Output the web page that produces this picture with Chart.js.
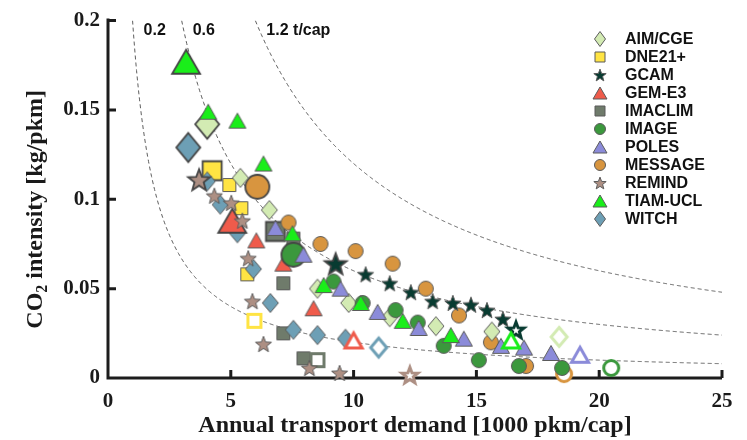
<!DOCTYPE html>
<html>
<head>
<meta charset="utf-8">
<script src="https://cdn.jsdelivr.net/npm/chart.js@4/dist/chart.umd.min.js"></script>
<style>
  html, body { margin: 0; padding: 0; background: #ffffff; }
  #c { display: block; }
</style>
</head>
<body>
<canvas id="c" width="747" height="440"></canvas>
<script>
// Passenger transport: demand vs. CO2 intensity per model, 2010 (large marker) to 2100 (open marker)
const models = ['AIM/CGE', 'DNE21+', 'GCAM', 'GEM-E3', 'IMACLIM', 'IMAGE', 'POLES', 'MESSAGE', 'REMIND', 'TIAM-UCL', 'WITCH'];

// transport demand [1000 pkm/cap]
const aimX     = [4.04, 5.39, 6.57, 8.53, 9.80, 11.47, 13.35, 15.63, 18.37];
const dneX     = [4.24, 4.94, 5.43, 5.67, 5.96];
const gcamX    = [9.27, 10.49, 11.47, 12.33, 13.22, 14.04, 14.78, 15.43, 16.08, 16.61];
const gemX     = [5.06, 6.04, 7.14, 8.37, 10.00];
const imaclimX = [6.82, 7.55, 7.14, 7.14, 7.96, 8.53];
const imageX   = [7.55, 9.18, 10.37, 11.71, 12.61, 13.67, 15.10, 16.73, 18.49, 20.49];
const polesX   = [6.82, 7.96, 9.47, 10.98, 12.65, 14.49, 16.00, 16.94, 18.04, 19.22];
const messageX = [6.08, 7.35, 8.65, 10.08, 11.59, 12.94, 14.29, 15.59, 17.02, 18.57];
const remindX  = [3.71, 4.33, 5.02, 5.47, 5.71, 5.88, 6.33, 8.20, 9.43, 12.29];
const tiamX    = [3.18, 4.08, 5.27, 6.33, 7.51, 8.78, 10.29, 12.00, 13.96, 16.41];
const witchX   = [3.27, 4.04, 4.57, 5.27, 5.92, 6.61, 7.55, 8.53, 9.67, 11.02];

// CO2 intensity [kg/pkm]
const aimY     = [0.142, 0.112, 0.094, 0.050, 0.042, 0.034, 0.029, 0.026, 0.023];
const dneY     = [0.116, 0.108, 0.095, 0.058, 0.032];
const gcamY    = [0.064, 0.058, 0.053, 0.048, 0.043, 0.042, 0.041, 0.038, 0.033, 0.027];
const gemY     = [0.088, 0.077, 0.064, 0.039, 0.021];
const imaclimY = [0.082, 0.078, 0.053, 0.025, 0.011, 0.010];
const imageY   = [0.069, 0.054, 0.042, 0.038, 0.031, 0.018, 0.010, 0.0067, 0.0056, 0.0056];
const polesY   = [0.084, 0.069, 0.050, 0.037, 0.028, 0.022, 0.018, 0.017, 0.014, 0.013];
const messageY = [0.107, 0.087, 0.075, 0.071, 0.064, 0.050, 0.035, 0.020, 0.0067, 0.0022];
const remindY  = [0.111, 0.102, 0.098, 0.088, 0.067, 0.043, 0.019, 0.0056, 0.0028, 0.0017];
const tiamY    = [0.177, 0.149, 0.144, 0.120, 0.081, 0.052, 0.042, 0.032, 0.024, 0.021];
const witchY   = [0.129, 0.110, 0.097, 0.081, 0.061, 0.042, 0.027, 0.024, 0.022, 0.017];

// models without a 2010 point in the series (first point is a regular one)
const noBaseYear = ['POLES'];

// iso-emission lines: demand x intensity = t CO2 per capita
const isoLevels = [0.2, 0.6, 1.2];
const isoLabels = ['0.2', '0.6', '1.2 t/cap'];

const xTickStep = 5;
const yTickStep = 0.05;

const series = [
  [aimX, aimY], [dneX, dneY], [gcamX, gcamY], [gemX, gemY], [imaclimX, imaclimY],
  [imageX, imageY], [polesX, polesY], [messageX, messageY], [remindX, remindY],
  [tiamX, tiamY], [witchX, witchY]
].map(([xs, ys], i) => ({ name: models[i], xs, ys }));

// ---- marker appearance ----
const SERIF = '"Liberation Serif", "Times New Roman", serif';
const SANS = '"Liberation Sans", Arial, sans-serif';

const look = {
  'AIM/CGE':  { shape: 'diamond',  color: '#d3ebb3', layer: 5 },
  'DNE21+':   { shape: 'square',   color: '#ffe443', layer: 10 },
  'GCAM':     { shape: 'star',     color: '#083b31', layer: 6 },
  'GEM-E3':   { shape: 'triangle', color: '#ef5b4b', layer: 8 },
  'IMACLIM':  { shape: 'square',   color: '#6f7b6b', layer: 11 },
  'IMAGE':    { shape: 'circle',   color: '#3b983d', layer: 4 },
  'POLES':    { shape: 'triangle', color: '#8b8bd9', layer: 2 },
  'MESSAGE':  { shape: 'circle',   color: '#d8953f', layer: 7 },
  'REMIND':   { shape: 'star',     color: '#ad8f83', layer: 3 },
  'TIAM-UCL': { shape: 'triangle', color: '#1aee1a', layer: 1 },
  'WITCH':    { shape: 'diamond',  color: '#6d9fb5', layer: 9 }
};

// half extents (w, h) per shape and size class
const markerSize = {
  diamond:  { normal: [8, 9.5],  large: [12, 14.5], legend: [5.5, 7.5] },
  square:   { normal: [6.5, 6.5], large: [9.5, 9.5], legend: [5, 5] },
  triangle: { normal: [8.5, 7.5], large: [14, 12],   legend: [7, 6] },
  circle:   { normal: [7.5, 7.5], large: [12, 12],   legend: [5.5, 5.5] },
  star:     { normal: [8.5, 8.5], large: [11.5, 11.5], legend: [6.5, 6.5] }
};

function tracePath(c, shape, cx, cy, w, h) {
  c.beginPath();
  if (shape === 'circle') {
    c.ellipse(cx, cy, w, h, 0, 0, Math.PI * 2);
  } else if (shape === 'square') {
    c.rect(cx - w, cy - h, 2 * w, 2 * h);
  } else if (shape === 'diamond') {
    c.moveTo(cx, cy - h); c.lineTo(cx + w, cy); c.lineTo(cx, cy + h); c.lineTo(cx - w, cy);
  } else if (shape === 'triangle') {
    c.moveTo(cx, cy - h); c.lineTo(cx + w, cy + h); c.lineTo(cx - w, cy + h);
  } else if (shape === 'star') {
    const R = w, r = w * 0.42, oy = cy + R * 0.095;
    for (let k = 0; k < 10; k++) {
      const ang = -Math.PI / 2 + k * Math.PI / 5;
      const rr = k % 2 ? r : R;
      const px = cx + rr * Math.cos(ang), py = oy + rr * Math.sin(ang);
      k ? c.lineTo(px, py) : c.moveTo(px, py);
    }
  }
  c.closePath();
}

const markerCache = {};
function markerImage(shape, size, fill, stroke, lw) {
  const key = [shape, size, fill, stroke, lw].join('|');
  if (markerCache[key]) return markerCache[key];
  const [w, h] = markerSize[shape][size];
  const pad = Math.ceil(lw) + 2;
  let W = Math.ceil(2 * w + 2 * pad), H = Math.ceil(2 * h + 2 * pad);
  W += W % 2; H += H % 2;
  const cv = document.createElement('canvas');
  cv.width = W; cv.height = H;
  const c = cv.getContext('2d');
  tracePath(c, shape, W / 2, H / 2, w, h);
  c.fillStyle = fill;
  c.fill();
  c.lineJoin = 'miter';
  c.lineWidth = lw;
  c.strokeStyle = stroke;
  c.stroke();
  markerCache[key] = cv;
  return cv;
}

function pointMarker(name, i, n) {
  const { shape, color } = look[name];
  if (i === n - 1) return markerImage(shape, 'normal', '#ffffff', color, 3);
  if (i === 0 && !noBaseYear.includes(name)) return markerImage(shape, 'large', color, '#444444', 1.8);
  return markerImage(shape, 'normal', color, '#5b5b5b', 1);
}

// ---- axes, iso lines, titles and legend ----
const decorations = {
  id: 'decorations',
  beforeDatasetsDraw(chart) {
    const { ctx, chartArea: a, scales: { x, y } } = chart;

    // iso-emission curves
    ctx.save();
    ctx.beginPath();
    ctx.rect(a.left, a.top, a.right - a.left, a.bottom - a.top);
    ctx.clip();
    ctx.setLineDash([4, 3]);
    ctx.strokeStyle = '#5e5e5e';
    ctx.lineWidth = 1;
    isoLevels.forEach(level => {
      ctx.beginPath();
      const start = x.getPixelForValue(level / y.max);
      let first = true;
      for (let px = start; px <= a.right + 1; px += 1) {
        const v = x.getValueForPixel(px);
        const py = y.getPixelForValue(level / v);
        if (first) { ctx.moveTo(px, py); first = false; } else ctx.lineTo(px, py);
      }
      ctx.stroke();
    });
    ctx.restore();

    // curve labels
    ctx.save();
    ctx.fillStyle = '#111111';
    ctx.font = 'bold 16px ' + SANS;
    ctx.textBaseline = 'middle';
    ctx.textAlign = 'left';
    isoLevels.forEach((level, i) => {
      ctx.fillText(isoLabels[i], x.getPixelForValue(level / y.max) + 11, a.top + 10);
    });
    ctx.restore();

    // axis lines with inward ticks
    ctx.save();
    ctx.strokeStyle = '#1c1c1c';
    ctx.lineWidth = 3;
    ctx.lineCap = 'butt';
    ctx.beginPath();
    ctx.moveTo(a.left, a.top - 2);
    ctx.lineTo(a.left, a.bottom + 1.5);
    ctx.moveTo(a.left - 1.5, a.bottom);
    ctx.lineTo(a.right, a.bottom);
    y.ticks.forEach(t => {
      const py = y.getPixelForValue(t.value);
      ctx.moveTo(a.left, py);
      ctx.lineTo(a.left + 8, py);
    });
    x.ticks.forEach(t => {
      const px = x.getPixelForValue(t.value);
      ctx.moveTo(px, a.bottom);
      ctx.lineTo(px, a.bottom - 8);
    });
    ctx.stroke();
    ctx.restore();
  },
  afterDraw(chart) {
    const { ctx, chartArea: a } = chart;

    // x title
    ctx.save();
    ctx.fillStyle = '#1a1a1a';
    ctx.font = 'bold 24px ' + SERIF;
    ctx.textAlign = 'center';
    ctx.textBaseline = 'alphabetic';
    ctx.fillText('Annual transport demand [1000 pkm/cap]', (a.left + a.right) / 2, 432);
    ctx.restore();

    // y title with subscript
    ctx.save();
    ctx.fillStyle = '#1a1a1a';
    ctx.translate(34, (a.top + a.bottom) / 2 + 10);
    ctx.rotate(-Math.PI / 2);
    const mainFont = 'bold 24px ' + SERIF, subFont = 'bold 16px ' + SERIF;
    const p1 = 'CO', p2 = '2', p3 = ' intensity [kg/pkm]';
    ctx.font = mainFont; const w1 = ctx.measureText(p1).width, w3 = ctx.measureText(p3).width;
    ctx.font = subFont; const w2 = ctx.measureText(p2).width;
    let sx = -(w1 + w2 + w3) / 2;
    ctx.textAlign = 'left';
    ctx.textBaseline = 'alphabetic';
    ctx.font = mainFont; ctx.fillText(p1, sx, 8); sx += w1;
    ctx.font = subFont; ctx.fillText(p2, sx, 13); sx += w2;
    ctx.font = mainFont; ctx.fillText(p3, sx, 8);
    ctx.restore();

    // legend
    ctx.save();
    ctx.font = 'bold 16px ' + SANS;
    ctx.fillStyle = '#111111';
    ctx.textAlign = 'left';
    ctx.textBaseline = 'middle';
    const lx = a.right - 122, tx = a.right - 97;
    series.forEach((s, i) => {
      const ly = a.top + 18 + i * 18;
      const { shape, color } = look[s.name];
      const img = markerImage(shape, 'legend', color, '#5b5b5b', 1);
      ctx.drawImage(img, Math.round(lx - img.width / 2), Math.round(ly - img.height / 2));
      ctx.fillText(s.name, tx, ly + 1);
    });
    ctx.restore();
  }
};

const tickFont = { family: SERIF, size: 21, weight: 'bold' };
const plainNumber = v => String(Number(v.toFixed(3)));

new Chart(document.getElementById('c'), {
  type: 'scatter',
  data: {
    datasets: series.map(s => ({
      label: s.name,
      data: s.xs.map((v, i) => ({ x: v, y: s.ys[i] })),
      order: look[s.name].layer,
      clip: false,
      pointRadius: 6,
      pointHoverRadius: 6,
      pointStyle: ctx => pointMarker(s.name, ctx.dataIndex, s.xs.length)
    }))
  },
  options: {
    responsive: false,
    animation: false,
    events: [],
    layout: { padding: { top: 18, right: 25, left: 0, bottom: 0 } },
    plugins: { legend: { display: false }, tooltip: { enabled: false } },
    scales: {
      x: {
        type: 'linear', min: 0, max: 25,
        grid: { display: false, drawTicks: false },
        border: { display: false },
        ticks: { stepSize: xTickStep, padding: 11, color: '#1a1a1a', font: tickFont, maxRotation: 0, callback: plainNumber },
        afterFit: s => { s.height = 62; }
      },
      y: {
        type: 'linear', min: 0, max: 0.2,
        grid: { display: false, drawTicks: false },
        border: { display: false },
        ticks: { stepSize: yTickStep, padding: 8, color: '#1a1a1a', font: tickFont, callback: plainNumber },
        afterFit: s => { s.width = 108; }
      }
    }
  },
  plugins: [decorations]
});
</script>
</body>
</html>
